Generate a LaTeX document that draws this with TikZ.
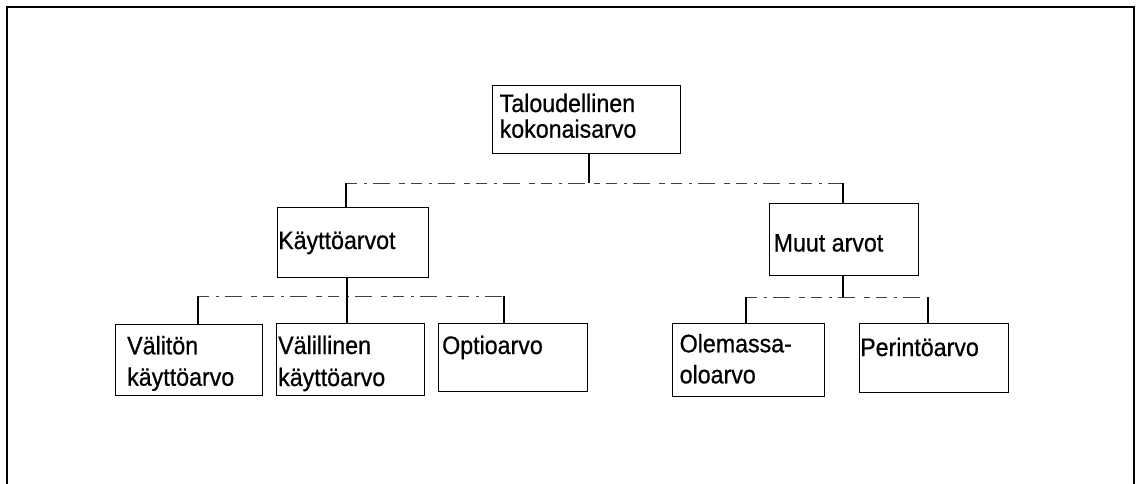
\documentclass[tikz,border=0pt]{standalone}
\usepackage{fontspec}
\usepackage{graphicx}
\setmainfont{Liberation Sans}
\newfontfamily\labelfont{Liberation Sans}[FakeBold=0.7]
% the printed face is a little taller than Arial at the same width
\newcommand\talltext[1]{\scalebox{1}[1.09]{#1}}
\begin{document}
\begin{tikzpicture}[x=1pt,y=-1pt,
  frame/.style={line width=2.2pt},
  box/.style={draw, line width=1.4pt, rectangle, inner sep=0pt, anchor=north west},
  txt/.style={anchor=base west, inner sep=0pt, font=\labelfont\fontsize{23.2}{26}\selectfont},
  wire/.style={line width=1.3pt},
  bus/.style={line width=1pt, black!75,
    dash pattern=on 11pt off 7pt on 3pt off 6pt on 17pt off 9pt on 6pt off 6pt}]
\useasboundingbox (0,0) rectangle (1143,484);

% outer frame, open at the bottom
\draw[frame] (7,484) -- (7,7) -- (1134,7) -- (1134,484);

% boxes
\node[box, minimum width=188pt, minimum height=68pt] (top)   at (492,85)  {};
\node[box, minimum width=151pt, minimum height=70pt] (use)   at (277,207) {};
\node[box, minimum width=149pt, minimum height=72pt] (other) at (769,203) {};
\node[box, minimum width=147pt, minimum height=71pt] (b1)    at (115,324) {};
\node[box, minimum width=148pt, minimum height=72pt] (b2)    at (276,323) {};
\node[box, minimum width=149pt, minimum height=68pt] (b3)    at (438,323) {};
\node[box, minimum width=152pt, minimum height=73pt] (b4)    at (672,323) {};
\node[box, minimum width=149pt, minimum height=69pt] (b5)    at (859,323) {};

% labels, one node per printed line
\node[txt] (top-1)   at (499.5,112)   {\talltext{Taloudellinen}};
\node[txt] (top-2)   at (499.5,137.7) {\talltext{kokonaisarvo}};
\node[txt] (use-1)   at (278,249)     {\talltext{Käyttöarvot}};
\node[txt] (other-1) at (773.5,251.5) {\talltext{Muut arvot}};
\node[txt] (b1-1)    at (127,354.3)   {\talltext{Välitön}};
\node[txt] (b1-2)    at (127,385.7)   {\talltext{käyttöarvo}};
\node[txt] (b2-1)    at (278,354)     {\talltext{Välillinen}};
\node[txt] (b2-2)    at (278,386)     {\talltext{käyttöarvo}};
\node[txt] (b3-1)    at (442,354)     {\talltext{Optioarvo}};
\node[txt] (b4-1)    at (679.5,352.3) {\talltext{Olemassa-}};
\node[txt] (b4-2)    at (679.5,383.3) {\talltext{oloarvo}};
\node[txt] (b5-1)    at (860,356)     {\talltext{Perintöarvo}};

% first level
\coordinate (j0)  at (589,183);
\coordinate (j0L) at (346,183);
\coordinate (j0R) at (843,183);
\draw[wire] (top.south -| j0) -- (j0);
\draw[bus]  (j0L) -- (j0R);
\draw[wire] (j0L) -- (j0L |- use.north);
\draw[wire] (j0R) -- (j0R |- other.north);

% use values
\coordinate (j1)  at (347,296);
\coordinate (j1L) at (198,296);
\coordinate (j1R) at (504,296);
\draw[wire] (use.south -| j1) -- (j1);
\draw[bus]  (j1L) -- (j1R);
\draw[wire] (j1L) -- (j1L |- b1.north);
\draw[wire] (j1)  -- (j1 |- b2.north);
\draw[wire] (j1R) -- (j1R |- b3.north);

% other values
\coordinate (j2)  at (843,297);
\coordinate (j2L) at (746,297);
\coordinate (j2R) at (928,297);
\draw[wire] (other.south -| j2) -- (j2);
\draw[bus]  (j2L) -- (j2R);
\draw[wire] (j2L) -- (j2L |- b4.north);
\draw[wire] (j2R) -- (j2R |- b5.north);
\end{tikzpicture}
\end{document}
